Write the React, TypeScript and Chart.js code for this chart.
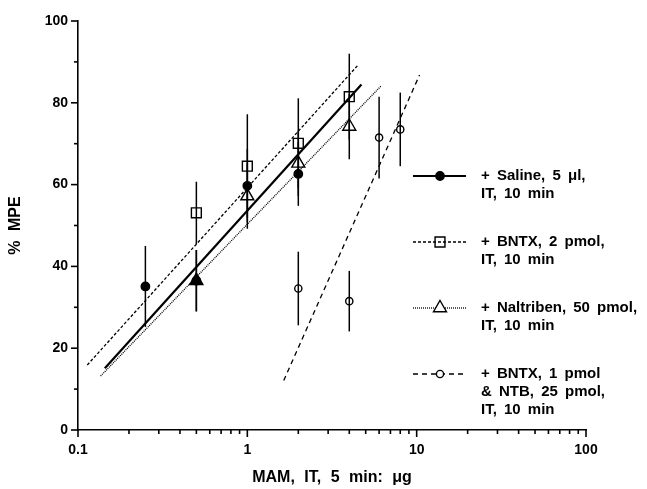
import React, { useEffect, useRef } from "react";
import { Chart, registerables } from "chart.js";

Chart.register(...registerables);

const FONT = '"Liberation Sans", Arial, Helvetica, sans-serif';

// ---- data (dose in µg, response in %MPE, error = half length of bar) ----
const salineDose = [0.25, 0.5, 1, 2];
const salineMPE = [35.1, 36.5, 59.7, 62.6];
const salineErr = [9.9, 7.5, 9, 7.8];

const bntx2Dose = [0.5, 1, 2, 4];
const bntx2MPE = [53.1, 64.5, 70.1, 81.5];
const bntx2Err = [7.6, 12.7, 11, 10.5];

const naltribenDose = [0.5, 1, 2, 4];
const naltribenMPE = [36.5, 57.2, 65.2, 74.2];
const naltribenErr = [7.5, 8, 8, 8];

const comboDose = [2, 4, 6, 8];
const comboMPE = [34.6, 31.5, 71.5, 73.5];
const comboErr = [9, 7.4, 10, 9];

// regression line end points
const salineFitDose = [0.144, 4.72];
const salineFitMPE = [15.1, 84.5];
const bntx2FitDose = [0.1135, 4.5];
const bntx2FitMPE = [15.9, 89.2];
const naltribenFitDose = [0.136, 6.19];
const naltribenFitMPE = [13.2, 84.2];
const comboFitDose = [1.64, 10.4];
const comboFitMPE = [12.1, 86.8];

const xTickValues = [0.1, 1, 10, 100];
const xTickLabels = ["0.1", "1", "10", "100"];
const yTickValues = [0, 20, 40, 60, 80, 100];
const yMinorValues = [10, 30, 50, 70, 90];

const legendLabels = [
  ["+ Saline, 5 μl,", "IT, 10 min"],
  ["+ BNTX, 2 pmol,", "IT, 10 min"],
  ["+ Naltriben, 50 pmol,", "IT, 10 min"],
  ["+ BNTX, 1 pmol", "& NTB, 25 pmol,", "IT, 10 min"],
];

const xTitle = "MAM, IT, 5 min: μg";
const yTitle = "% MPE";

// ---- styles ----
const seriesStyle = [
  { dash: [], width: 2.2, marker: "circle", fill: "#000", radius: 4.2 },
  { dash: [3, 2], width: 1.3, marker: "rect", fill: "rgba(0,0,0,0)", radius: 7 },
  { dash: [1, 1], width: 1.3, marker: "triangle", fill: "#fff", radius: 7.5 },
  { dash: [5, 4], width: 1.3, marker: "circle", fill: "#fff", radius: 3.6 },
];

const pts = (xs: number[], ys: number[]) => xs.map((x, i) => ({ x, y: ys[i] }));

const errorSeries = [
  { dose: salineDose, mpe: salineMPE, err: salineErr },
  { dose: bntx2Dose, mpe: bntx2MPE, err: bntx2Err },
  { dose: naltribenDose, mpe: naltribenMPE, err: naltribenErr },
  { dose: comboDose, mpe: comboMPE, err: comboErr },
];

function drawMarker(ctx: CanvasRenderingContext2D, kind: string, x: number, y: number, r: number, fill: string) {
  ctx.save();
  ctx.setLineDash([]);
  ctx.lineWidth = 1.4;
  ctx.strokeStyle = "#000";
  ctx.fillStyle = fill;
  ctx.beginPath();
  if (kind === "circle") {
    ctx.arc(x, y, r, 0, Math.PI * 2);
  } else if (kind === "rect") {
    const s = r * Math.SQRT1_2;
    ctx.rect(x - s, y - s, 2 * s, 2 * s);
  } else {
    ctx.moveTo(x, y - r);
    ctx.lineTo(x + r * Math.sin((2 * Math.PI) / 3), y - r * Math.cos((2 * Math.PI) / 3));
    ctx.lineTo(x + r * Math.sin((4 * Math.PI) / 3), y - r * Math.cos((4 * Math.PI) / 3));
    ctx.closePath();
  }
  ctx.fill();
  ctx.stroke();
  ctx.restore();
}

const textSpacingPlugin = {
  id: "textSpacing",
  beforeDraw(chart: any) {
    (chart.ctx as any).wordSpacing = "5px";
  },
};

const errorBarPlugin = {
  id: "errorBars",
  afterDatasetsDraw(chart: any) {
    const { ctx, scales } = chart;
    const xs = scales.x;
    const ys = scales.y;
    ctx.save();
    ctx.strokeStyle = "#000";
    ctx.lineWidth = 1.5;
    ctx.setLineDash([]);
    errorSeries.forEach((s) => {
      s.dose.forEach((d, i) => {
        const px = xs.getPixelForValue(d);
        const y1 = ys.getPixelForValue(s.mpe[i] + s.err[i]);
        const y2 = ys.getPixelForValue(s.mpe[i] - s.err[i]);
        ctx.beginPath();
        ctx.moveTo(px, y1);
        ctx.lineTo(px, y2);
        ctx.stroke();
      });
    });
    ctx.restore();
  },
};

const tickPlugin = {
  id: "axisTicks",
  afterDraw(chart: any) {
    const { ctx, scales, chartArea } = chart;
    const xs = scales.x;
    const ys = scales.y;
    ctx.save();
    ctx.strokeStyle = "#000";
    ctx.lineWidth = 1.6;
    ctx.setLineDash([]);
    const line = (x1: number, y1: number, x2: number, y2: number) => {
      ctx.beginPath();
      ctx.moveTo(x1, y1);
      ctx.lineTo(x2, y2);
      ctx.stroke();
    };
    yTickValues.forEach((v) => {
      const py = ys.getPixelForValue(v);
      line(chartArea.left - 7, py, chartArea.left, py);
    });
    yMinorValues.forEach((v) => {
      const py = ys.getPixelForValue(v);
      line(chartArea.left - 4, py, chartArea.left, py);
    });
    xTickValues.forEach((v) => {
      const px = xs.getPixelForValue(v);
      line(px, chartArea.bottom, px, chartArea.bottom + 7);
    });
    [0.1, 1, 10].forEach((dec) => {
      for (let k = 2; k <= 9; k++) {
        const px = xs.getPixelForValue(dec * k);
        line(px, chartArea.bottom, px, chartArea.bottom + 4);
      }
    });
    ctx.restore();
  },
};

const legendPlugin = {
  id: "customLegend",
  afterDraw(chart: any) {
    const ctx = chart.ctx as CanvasRenderingContext2D;
    ctx.save();
    legendLabels.forEach((lines, i) => {
      const st = seriesStyle[i];
      const y0 = 176 + 66 * i;
      ctx.strokeStyle = "#000";
      ctx.lineWidth = st.width;
      ctx.setLineDash(st.dash);
      ctx.beginPath();
      ctx.moveTo(413, y0);
      ctx.lineTo(466, y0);
      ctx.stroke();
      drawMarker(ctx, st.marker, 440, y0, st.radius, st.fill);
      ctx.setLineDash([]);
      ctx.fillStyle = "#000";
      ctx.font = `bold 15px ${FONT}`;
      (ctx as any).wordSpacing = "3px";
      ctx.textAlign = "left";
      ctx.textBaseline = "middle";
      lines.forEach((t, j) => ctx.fillText(t, 481, y0 + 18 * j));
    });
    ctx.restore();
  },
};

export default function App() {
  const ref = useRef<HTMLCanvasElement | null>(null);

  useEffect(() => {
    if (!ref.current) return;
    const fitDs = (xs: number[], ys: number[], i: number) => ({
      type: "line" as const,
      data: pts(xs, ys),
      showLine: true,
      borderColor: "#000",
      borderWidth: seriesStyle[i].width,
      borderDash: seriesStyle[i].dash,
      pointRadius: 0,
      fill: false,
      tension: 0,
    });
    const markDs = (xs: number[], ys: number[], i: number, fills?: string[]) => ({
      type: "scatter" as const,
      data: pts(xs, ys),
      showLine: false,
      pointStyle: seriesStyle[i].marker,
      pointRadius: seriesStyle[i].radius,
      pointBorderWidth: 1.4,
      pointBorderColor: "#000",
      pointBackgroundColor: fills || seriesStyle[i].fill,
      borderColor: "#000",
    });

    const chart = new Chart(ref.current, {
      type: "scatter",
      data: {
        datasets: [
          fitDs(salineFitDose, salineFitMPE, 0),
          fitDs(bntx2FitDose, bntx2FitMPE, 1),
          fitDs(naltribenFitDose, naltribenFitMPE, 2),
          fitDs(comboFitDose, comboFitMPE, 3),
          markDs(salineDose, salineMPE, 0),
          markDs(bntx2Dose, bntx2MPE, 1),
          markDs(naltribenDose, naltribenMPE, 2, ["#000", "#fff", "#fff", "#fff"]),
          markDs(comboDose, comboMPE, 3),
        ] as any,
      },
      options: {
        animation: false,
        responsive: false,
        devicePixelRatio: 1,
        layout: { padding: { top: 21, right: 61, left: 0, bottom: 0 } },
        plugins: { legend: { display: false }, tooltip: { enabled: false } },
        scales: {
          x: {
            type: "logarithmic",
            position: "bottom",
            min: 0.1,
            max: 100,
            grid: { display: false, drawTicks: false },
            border: { display: true, color: "#000", width: 1.6 },
            afterBuildTicks: (s: any) => {
              s.ticks = xTickValues.map((v) => ({ value: v, major: true }));
            },
            afterFit: (s: any) => {
              s.height = 59;
            },
            ticks: {
              autoSkip: false,
              maxRotation: 0,
              padding: 12,
              color: "#000",
              font: { family: FONT, size: 14, weight: "bold" },
              callback: (v: any) => {
                const idx = xTickValues.indexOf(Number(v));
                return idx >= 0 ? xTickLabels[idx] : "";
              },
            },
            title: {
              display: true,
              text: xTitle,
              color: "#000",
              font: { family: FONT, size: 16, weight: "bold" },
              padding: { top: 0, bottom: 2 },
            },
          },
          y: {
            type: "linear",
            min: 0,
            max: 100,
            grid: { display: false, drawTicks: false },
            border: { display: true, color: "#000", width: 1.6 },
            afterBuildTicks: (s: any) => {
              s.ticks = yTickValues.map((v) => ({ value: v }));
            },
            afterFit: (s: any) => {
              s.width = 78;
            },
            ticks: {
              padding: 10,
              color: "#000",
              font: { family: FONT, size: 14, weight: "bold" },
            },
            title: {
              display: true,
              text: yTitle,
              color: "#000",
              font: { family: FONT, size: 16, weight: "bold" },
              padding: { top: 6, bottom: 0 },
            },
          },
        },
      } as any,
      plugins: [textSpacingPlugin, errorBarPlugin, tickPlugin, legendPlugin],
    });
    return () => chart.destroy();
  }, []);

  return (
    <div style={{ position: "fixed", left: 0, top: 0, width: 647, height: 489, background: "#fff" }}>
      <canvas ref={ref} width={647} height={489} style={{ display: "block", width: 647, height: 489 }} />
    </div>
  );
}
